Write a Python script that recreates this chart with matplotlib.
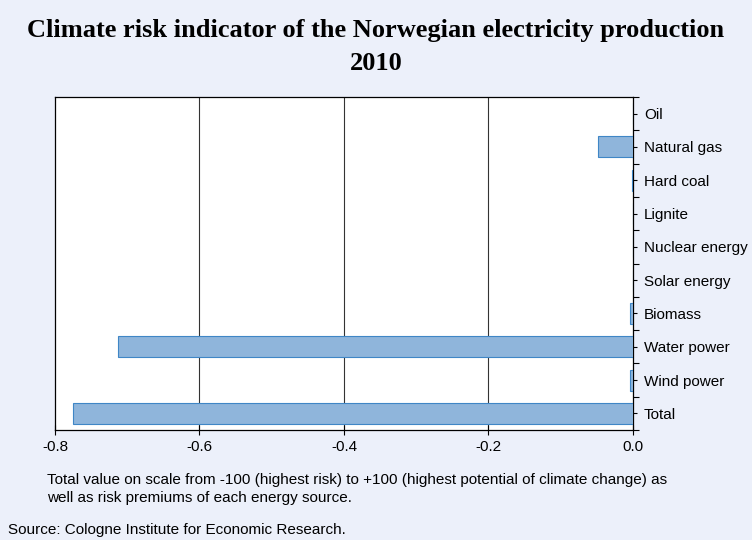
import numpy as np
import matplotlib
matplotlib.use('Agg')
import matplotlib.pyplot as plt

# data (top to bottom)
categories = ['Oil', 'Natural gas', 'Hard coal', 'Lignite', 'Nuclear energy',
              'Solar energy', 'Biomass', 'Water power', 'Wind power', 'Total']
values = [0.0, -0.048, -0.002, 0.0, 0.0, 0.0, -0.004, -0.713, -0.004, -0.775]
xticks = [-0.8, -0.6, -0.4, -0.2, 0.0]

BG = '#ECF0FA'
BAR = '#8FB5DB'
EDGE = '#3F86C6'

plt.rcParams['font.family'] = ['Liberation Sans', 'DejaVu Sans']

fig = plt.figure(figsize=(7.52, 5.40), dpi=100, facecolor=BG)
ax = fig.add_axes([55 / 752, 1 - 430 / 540, 578 / 752, 333 / 540])
ax.set_facecolor('white')

y = np.arange(len(categories))
ax.barh(y, values, height=0.63, color=BAR, edgecolor=EDGE, linewidth=0.8, zorder=3)

ax.set_xlim(-0.8, 0.0)
ax.set_ylim(len(categories) - 0.5, -0.5)

ax.set_xticks(xticks)
ax.set_xticklabels([f'{t:.1f}' for t in xticks], fontsize=11)
ax.tick_params(axis='x', direction='inout', length=7, width=0.8, pad=4)
for t in xticks[1:-1]:
    ax.axvline(t, color='#333333', linewidth=0.8, zorder=1)

# category labels sit to the right of the zero line
ax.yaxis.tick_right()
ax.set_yticks(np.arange(len(categories) + 1) - 0.5)
ax.set_yticklabels([])
ax.set_yticks(y, minor=True)
ax.set_yticklabels(categories, minor=True, fontsize=11)
ax.tick_params(axis='y', which='major', direction='out', length=4, width=0.8)
ax.tick_params(axis='y', which='minor', direction='out', length=3, width=0.8, pad=5)

for s in ax.spines.values():
    s.set_color('black')
    s.set_linewidth(0.9)

fig.text(0.5, 1 - 30 / 540, 'Climate risk indicator of the Norwegian electricity production',
         ha='center', va='center', fontsize=19, fontweight='bold',
         family='Liberation Serif')
fig.text(0.5, 1 - 63 / 540, '2010',
         ha='center', va='center', fontsize=19, fontweight='bold',
         family='Liberation Serif')

fig.text(47 / 752, 1 - 480 / 540,
         'Total value on scale from -100 (highest risk) to +100 (highest potential of climate change) as',
         fontsize=11, va='center')
fig.text(47 / 752, 1 - 498 / 540, 'well as risk premiums of each energy source.',
         fontsize=11, va='center')
fig.text(8 / 752, 1 - 530 / 540, 'Source: Cologne Institute for Economic Research.',
         fontsize=11, va='center')

fig.savefig('out.png', dpi=100, facecolor=BG)
